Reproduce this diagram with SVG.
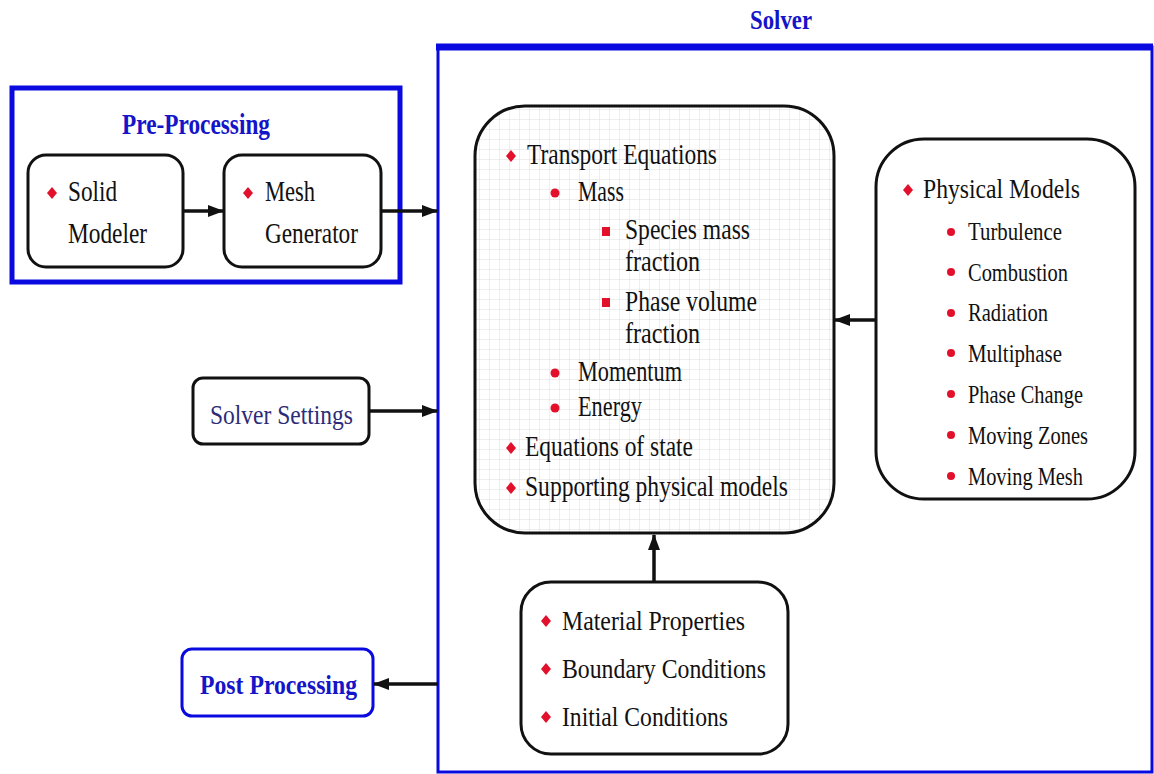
<svg xmlns="http://www.w3.org/2000/svg" width="1154" height="774" viewBox="0 0 1154 774">
<style>
.t{font-family:"Liberation Serif","Times New Roman",serif;fill:#111}
.b{font-family:"Liberation Serif","Times New Roman",serif;font-weight:bold;fill:#1414c8}
.box{fill:#fff;stroke:#111;stroke-width:3}
.blue{fill:none;stroke:#0a0ae0}
.red{fill:#e3102c}
.con{stroke:#111;stroke-width:3.5;fill:none;marker-end:url(#ah)}
</style>
<defs>
<marker id="ah" markerUnits="userSpaceOnUse" markerWidth="16" markerHeight="12" refX="15" refY="6" orient="auto">
<path d="M0,0 L16,6 L0,12 z" fill="#111"/>
</marker>
<pattern id="grid" width="10" height="10" patternUnits="userSpaceOnUse">
<rect width="10" height="10" fill="#fff"/>
<path d="M10,0 V10 M0,10 H10" stroke="#dedede" stroke-width="1"/>
</pattern>
<path id="dia" d="M0,-6 L5,0 L0,6 L-5,0 z"/>
</defs>
<rect width="1154" height="774" fill="#fff"/>

<g id="solver">
<rect x="438" y="47" width="714" height="725" class="blue" stroke-width="3"/>
<line x1="436" y1="47" x2="1153" y2="47" stroke="#0a0ae0" stroke-width="7"/>
<text x="750" y="29" class="b" font-size="28" textLength="62" lengthAdjust="spacingAndGlyphs">Solver</text>
</g>

<g id="preprocessing">
<rect x="12" y="88" width="388" height="194" class="blue" stroke-width="5"/>
<text x="122" y="134" class="b" font-size="29" textLength="148" lengthAdjust="spacingAndGlyphs">Pre-Processing</text>
</g>

<g id="solid-modeler">
<rect x="28" y="155" width="155" height="112" rx="18" class="box"/>
<use href="#dia" x="52" y="193" class="red"/>
<text x="68" y="201" class="t" font-size="30" textLength="49" lengthAdjust="spacingAndGlyphs">Solid</text>
<text x="68" y="243" class="t" font-size="30" textLength="79" lengthAdjust="spacingAndGlyphs">Modeler</text>
</g>

<g id="mesh-generator">
<rect x="224" y="155" width="157" height="112" rx="18" class="box"/>
<use href="#dia" x="248" y="193" class="red"/>
<text x="265" y="201" class="t" font-size="30" textLength="50" lengthAdjust="spacingAndGlyphs">Mesh</text>
<text x="265" y="243" class="t" font-size="30" textLength="93" lengthAdjust="spacingAndGlyphs">Generator</text>
</g>

<g id="solver-settings">
<rect x="193" y="378" width="176" height="66" rx="10" class="box"/>
<text x="210" y="424" font-family="Liberation Serif, Times New Roman, serif" fill="#2c2c78" font-size="28" textLength="143" lengthAdjust="spacingAndGlyphs">Solver Settings</text>
</g>

<g id="post-processing">
<rect x="182" y="649" width="191" height="67" rx="10" fill="#fff" stroke="#0a0ae0" stroke-width="3"/>
<text x="200" y="694" class="b" font-size="28" textLength="157" lengthAdjust="spacingAndGlyphs">Post Processing</text>
</g>

<g id="transport">
<rect x="475" y="106" width="359" height="427" rx="50" fill="url(#grid)" stroke="#111" stroke-width="3"/>
<use href="#dia" x="511" y="156" class="red"/>
<text x="527" y="164" class="t" font-size="29" textLength="190" lengthAdjust="spacingAndGlyphs">Transport Equations</text>
<circle cx="555" cy="193" r="4.5" class="red"/>
<text x="578" y="201" class="t" font-size="29" textLength="46" lengthAdjust="spacingAndGlyphs">Mass</text>
<rect x="602" y="227" width="8" height="9" class="red"/>
<text x="625" y="239" class="t" font-size="29" textLength="125" lengthAdjust="spacingAndGlyphs">Species mass</text>
<text x="625" y="271" class="t" font-size="29" textLength="75" lengthAdjust="spacingAndGlyphs">fraction</text>
<rect x="602" y="298" width="8" height="9" class="red"/>
<text x="625" y="311" class="t" font-size="29" textLength="132" lengthAdjust="spacingAndGlyphs">Phase volume</text>
<text x="625" y="343" class="t" font-size="29" textLength="75" lengthAdjust="spacingAndGlyphs">fraction</text>
<circle cx="555" cy="373" r="4.5" class="red"/>
<text x="578" y="381" class="t" font-size="29" textLength="104" lengthAdjust="spacingAndGlyphs">Momentum</text>
<circle cx="555" cy="408" r="4.5" class="red"/>
<text x="578" y="416" class="t" font-size="29" textLength="64" lengthAdjust="spacingAndGlyphs">Energy</text>
<use href="#dia" x="511" y="448" class="red"/>
<text x="525" y="456" class="t" font-size="29" textLength="168" lengthAdjust="spacingAndGlyphs">Equations of state</text>
<use href="#dia" x="511" y="488" class="red"/>
<text x="525" y="496" class="t" font-size="29" textLength="263" lengthAdjust="spacingAndGlyphs">Supporting physical models</text>
</g>

<g id="physical-models">
<rect x="876" y="139" width="259" height="360" rx="48" class="box"/>
<use href="#dia" x="908" y="190" class="red"/>
<text x="923" y="198" class="t" font-size="28" textLength="157" lengthAdjust="spacingAndGlyphs">Physical Models</text>
<circle cx="951" cy="232" r="4" class="red"/>
<text x="968" y="240" class="t" font-size="26" textLength="94" lengthAdjust="spacingAndGlyphs">Turbulence</text>
<circle cx="951" cy="272" r="4" class="red"/>
<text x="968" y="281" class="t" font-size="26" textLength="100" lengthAdjust="spacingAndGlyphs">Combustion</text>
<circle cx="951" cy="313" r="4" class="red"/>
<text x="968" y="321" class="t" font-size="26" textLength="80" lengthAdjust="spacingAndGlyphs">Radiation</text>
<circle cx="951" cy="353" r="4" class="red"/>
<text x="968" y="362" class="t" font-size="26" textLength="94" lengthAdjust="spacingAndGlyphs">Multiphase</text>
<circle cx="951" cy="394" r="4" class="red"/>
<text x="968" y="403" class="t" font-size="26" textLength="115" lengthAdjust="spacingAndGlyphs">Phase Change</text>
<circle cx="951" cy="435" r="4" class="red"/>
<text x="968" y="444" class="t" font-size="26" textLength="120" lengthAdjust="spacingAndGlyphs">Moving Zones</text>
<circle cx="951" cy="476" r="4" class="red"/>
<text x="968" y="485" class="t" font-size="26" textLength="115" lengthAdjust="spacingAndGlyphs">Moving Mesh</text>
</g>

<g id="material">
<rect x="521" y="582" width="267" height="172" rx="30" class="box"/>
<use href="#dia" x="546" y="621" class="red"/>
<text x="562" y="630" class="t" font-size="28" textLength="183" lengthAdjust="spacingAndGlyphs">Material Properties</text>
<use href="#dia" x="546" y="669" class="red"/>
<text x="562" y="678" class="t" font-size="28" textLength="204" lengthAdjust="spacingAndGlyphs">Boundary Conditions</text>
<use href="#dia" x="546" y="717" class="red"/>
<text x="562" y="726" class="t" font-size="28" textLength="166" lengthAdjust="spacingAndGlyphs">Initial Conditions</text>
</g>

<g id="connectors">
<line x1="183" y1="211" x2="223" y2="211" class="con"/>
<line x1="381" y1="211" x2="437" y2="211" class="con"/>
<line x1="369" y1="411" x2="437" y2="411" class="con"/>
<line x1="438" y1="684" x2="374" y2="684" class="con"/>
<line x1="876" y1="320" x2="835" y2="320" class="con"/>
<line x1="654" y1="582" x2="654" y2="535" class="con"/>
</g>
</svg>
